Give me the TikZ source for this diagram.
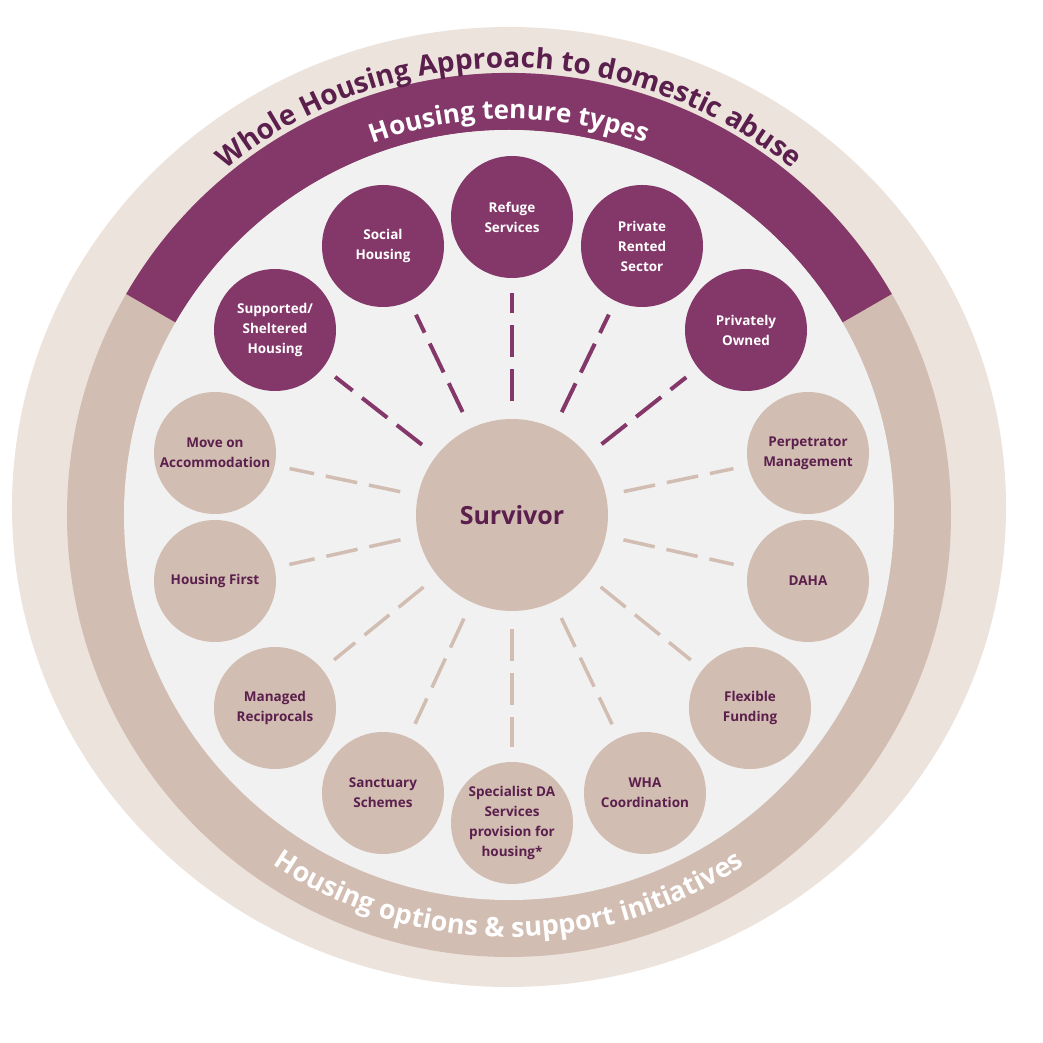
\documentclass[tikz,border=0pt]{standalone}
\usepackage{fontspec}
\setmainfont{Open Sans}
\usetikzlibrary{decorations.text}
\definecolor{beige}{HTML}{EDE3DD}
\definecolor{tan}{HTML}{D2BDB2}
\definecolor{purp}{HTML}{84386A}
\definecolor{inner}{HTML}{F1F1F1}
\definecolor{dpurp}{HTML}{5B1F4D}
\begin{document}
\begin{tikzpicture}[x=1pt,y=1pt,
  pn/.style={circle,fill=purp,minimum size=122pt,inner sep=0pt,align=center,text=white,font=\fontsize{13.5}{20}\selectfont\bfseries},
  tn/.style={circle,fill=tan,minimum size=122pt,inner sep=0pt,align=center,text=dpurp,font=\fontsize{13.5}{20}\selectfont\bfseries},
  pl/.style={purp,line width=4pt,dash pattern=on 32pt off 12pt,shorten <=18pt,shorten >=15pt},
  tl/.style={tan,line width=3.5pt,dash pattern=on 32pt off 12pt,shorten <=18pt,shorten >=15pt}]
\useasboundingbox (-509,-528) rectangle (534,515);
\fill[beige] (0,8) ellipse [x radius=497, y radius=480];
\fill[tan] (0,0) circle (442);
\fill[purp] (30:442) arc[start angle=30,end angle=150,radius=442] -- (150:385) arc[start angle=150,end angle=30,radius=385] -- cycle;
\fill[inner] (0,0) circle (385);
\path[decorate,decoration={text along path,text align=center,text color=dpurp,
  text={|\fontsize{28}{28}\selectfont\bfseries|Whole Housing Approach to domestic abuse}}]
  (160:447) arc[start angle=160,end angle=20,radius=447];
\path[decorate,decoration={text along path,text align=center,text color=white,
  text={|\fontsize{26}{26}\selectfont\bfseries|Housing tenure types}}]
  (150:396) arc[start angle=150,end angle=30,radius=396];
\path[decorate,decoration={text along path,text align=center,text color=white,
  text={|\fontsize{27}{27}\selectfont\bfseries|Housing options {\&} support initiatives}}]
  (200:422) arc[start angle=200,end angle=340,radius=422];
\node[circle,fill=tan,minimum size=192pt,text=dpurp,font=\fontsize{25}{25}\selectfont\bfseries] (s) at (3,0) {Survivor};
\node[pn] (a) at (-234,185) {Supported/\\Sheltered\\Housing};
\node[pn] (b) at (-126,269) {Social\\Housing};
\node[pn] (c) at (3,298) {Refuge\\Services};
\node[pn] (d) at (133,269) {Private\\Rented\\Sector};
\node[pn] (e) at (237,185) {Privately\\Owned};
\node[tn] (f) at (-294,62) {Move on\\Accommodation};
\node[tn] (g) at (299,62) {Perpetrator\\Management};
\node[tn] (h) at (-294,-66) {Housing First};
\node[tn] (i) at (299,-66) {DAHA};
\node[tn] (j) at (-234,-193) {Managed\\Reciprocals};
\node[tn] (k) at (241,-193) {Flexible\\Funding};
\node[tn] (l) at (-126,-278) {Sanctuary\\Schemes};
\node[tn] (m) at (3,-308) {Specialist DA\\Services\\provision for\\housing*};
\node[tn] (n) at (136,-278) {WHA\\Coordination};
\foreach \x in {a,b,c,d,e} \draw[pl] (s) -- (\x);
\foreach \x in {f,g,h,i,j,k,l,m,n} \draw[tl] (s) -- (\x);
\end{tikzpicture}
\end{document}
